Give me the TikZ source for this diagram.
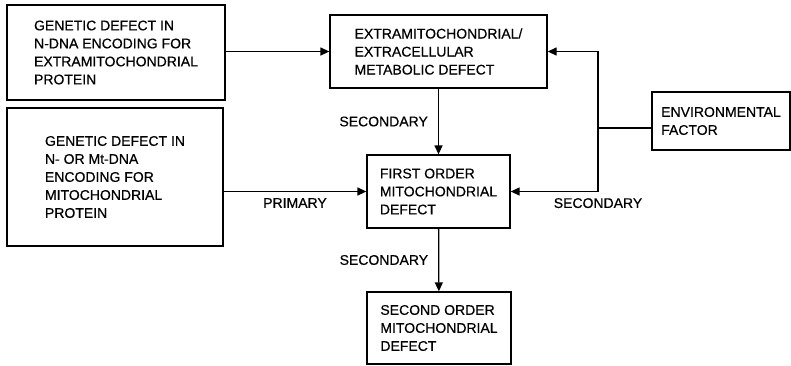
\documentclass[tikz,border=0pt]{standalone}
\usepackage{fontspec}
\setmainfont{Liberation Sans}[FakeBold=0.5]
\usetikzlibrary{arrows.meta}

\begin{document}
\begin{tikzpicture}[x=1pt, y=-1pt,
    every node/.style={font=\fontsize{14}{18}\selectfont},
    defect/.style={draw, line width=1.3pt, align=left, inner sep=0pt},
    flow/.style={line width=1.3pt, -{Triangle[length=9pt,width=8pt]}},
    tag/.style={inner sep=1pt}]
  \useasboundingbox (0,0) rectangle (791,365);
  % left column: the two genetic causes
  \node[defect, minimum width=218pt, minimum height=95pt] (ndna) at (116,52.5)
    {GENETIC DEFECT IN\\N-DNA ENCODING FOR\\EXTRAMITOCHONDRIAL\\PROTEIN};
  \node[defect, minimum width=216pt, minimum height=138pt] (mtdna) at (115,177)
    {GENETIC DEFECT IN\\N- OR Mt-DNA\\ENCODING FOR\\MITOCHONDRIAL\\PROTEIN};
  % middle column: the defects
  \node[defect, minimum width=217pt, minimum height=73pt] (extra) at (438.5,51.5)
    {EXTRAMITOCHONDRIAL/\\EXTRACELLULAR\\METABOLIC DEFECT};
  \node[defect, minimum width=143pt, minimum height=73pt] (first) at (438.5,191.5)
    {FIRST ORDER\\MITOCHONDRIAL\\DEFECT};
  \node[defect, minimum width=144pt, minimum height=72pt] (second) at (439,328)
    {SECOND ORDER\\MITOCHONDRIAL\\DEFECT};
  % right: environment
  \node[defect, minimum width=138pt, minimum height=58pt] (env) at (721,121)
    {ENVIRONMENTAL\\FACTOR};
  \coordinate (split) at (598,128);
  % connectors
  \draw[flow] (ndna.east |- extra.west) -- (extra.west);
  \draw[flow] (extra) -- node[tag, left=9pt] {SECONDARY} (first);
  \draw[flow] (mtdna.east |- first.west) -- node[tag, below=5pt] {PRIMARY} (first.west);
  \draw[flow] (first) -- node[tag, left=9pt] {SECONDARY} (second);
  \draw[line width=1.3pt] (split -| env.west) -- (split);
  \draw[flow] (split) |- (extra.east);
  \draw[flow] (split) |- node[tag, pos=0.5, below=5pt] {SECONDARY} (first.east);
\end{tikzpicture}
\end{document}
